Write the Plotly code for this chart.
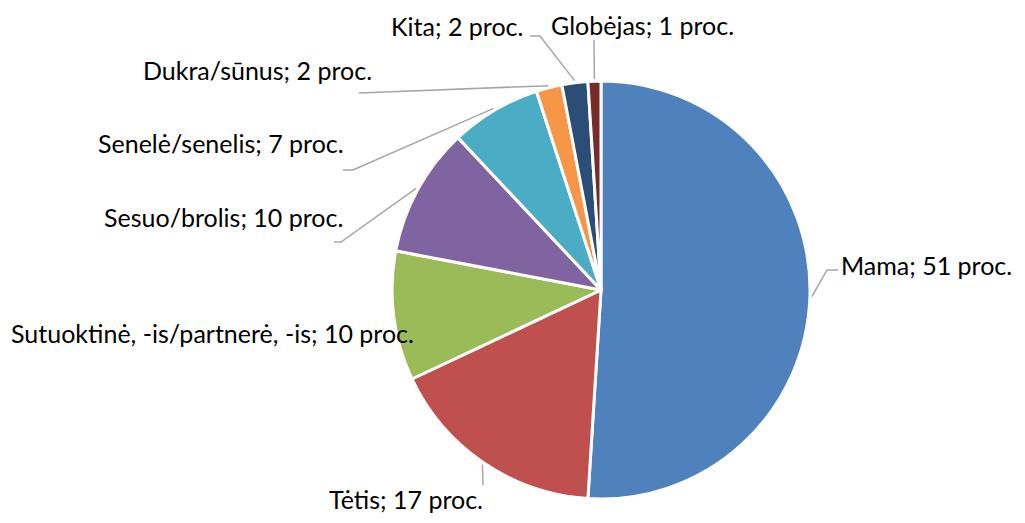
import math
import plotly.graph_objects as go

# ---- data ----
categories = ["Mama", "Tėtis", "Sutuoktinė, -is/partnerė, -is", "Sesuo/brolis",
              "Senelė/senelis", "Dukra/sūnus", "Kita", "Globėjas"]
values = [51, 17, 10, 10, 7, 2, 2, 1]
colors = ["#4F81BD", "#C0504D", "#9BBB59", "#8064A2", "#4BACC6", "#F79646", "#2C4D75", "#772C2A"]

# ---- layout (pixels, in window coordinates) ----
OFF = 8  # default page body margin that shifts the figure
W, H = 1025 - 2 * OFF, 523 - 2 * OFF
CX, CY, R = 601, 290, 209

# label placement: (left x, center y) in px, and leader-line elbow points
label_pos = [(840, 265), (328, 499), (10, 333), (103, 217), (97, 143), (142, 70), (390, 26), (550, 25)]
elbows = [
    [(827, 270), (838, 270)],
    [(483, 485)],
    [],
    [(341, 242), (334, 242)],
    [(353, 170), (343, 170)],
    [(359, 93)],
    [(540, 36), (530, 36)],
    [(594, 40)],
]

def px(x):
    return (x - OFF) / W

def py(y):
    return 1 - (y - OFF) / H

fig = go.Figure(go.Pie(
    labels=categories, values=values, sort=False, direction="clockwise", rotation=0,
    marker=dict(colors=colors, line=dict(color="white", width=3)),
    textinfo="none", hoverinfo="label+value", showlegend=False,
    domain=dict(x=[px(CX - R), px(CX + R)], y=[py(CY + R), py(CY - R)]),
))

total = sum(values)
cum = 0
annotations = []
shapes = []
for i, (cat, v) in enumerate(zip(categories, values)):
    mid = (cum + v / 2) / total * 2 * math.pi
    cum += v
    ax = CX + (R + 2) * math.sin(mid)
    ay = CY - (R + 2) * math.cos(mid)
    lx, ly = label_pos[i]
    annotations.append(dict(
        text=f"{cat}; {v} proc.", x=px(lx), y=py(ly), xref="paper", yref="paper",
        xanchor="left", yanchor="middle", showarrow=False, borderpad=0,
        font=dict(family="Lato, Carlito, Calibri, sans-serif", size=25, color="#000000"),
    ))
    if elbows[i]:
        pts = [(ax, ay)] + elbows[i]
        path = "M " + " L ".join(f"{px(x):.5f},{py(y):.5f}" for x, y in pts)
        shapes.append(dict(type="path", path=path, xref="paper", yref="paper",
                           line=dict(color="#A6A6A6", width=1.5)))

fig.update_layout(
    width=W, height=H, margin=dict(l=0, r=0, t=0, b=0),
    paper_bgcolor="white", plot_bgcolor="white",
    annotations=annotations, shapes=shapes,
)

fig.write_html("out.html")
